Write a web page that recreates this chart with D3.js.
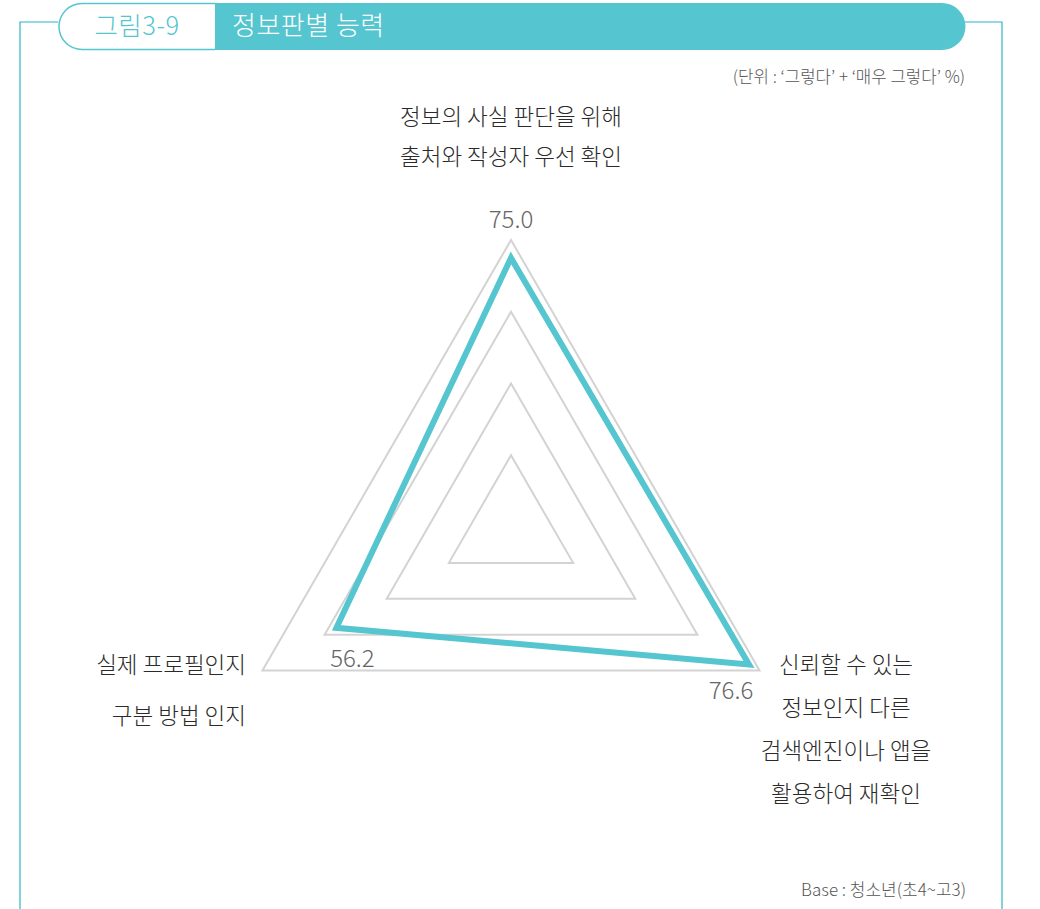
<!DOCTYPE html>
<html>
<head>
<meta charset="utf-8">
<script src="https://cdn.jsdelivr.net/npm/d3@7"></script>
<style>
  body { margin: 0; background: #fff; }
  text { font-family: "Noto Sans CJK KR", "Noto Sans", sans-serif; font-weight: 300; }
</style>
</head>
<body>
<svg id="chart" width="1040" height="909"></svg>
<script>
// data
var axes = ["정보의 사실 판단을 위해|출처와 작성자 우선 확인",
            "신뢰할 수 있는|정보인지 다른|검색엔진이나 앱을|활용하여 재확인",
            "실제 프로필인지|구분 방법 인지"];
var values = [75.0, 76.6, 56.2];
var gridLevels = [20, 40, 60, 80];

var teal = "#55c5cf",
    gridColor = "#d3d3d3";

var svg = d3.select("#chart");

// frame + header
svg.append("path")
    .attr("d", "M20,909 V22 H58")
    .attr("fill", "none").attr("stroke", "#2bb5c9").attr("stroke-width", 1.2);
svg.append("path")
    .attr("d", "M965,22 H1002 V909")
    .attr("fill", "none").attr("stroke", "#2bb5c9").attr("stroke-width", 1.2);

svg.append("path")
    .attr("d", "M215,3 H942 A23.5,23.5 0 0 1 942,50 H215 Z")
    .attr("fill", teal);
svg.append("path")
    .attr("d", "M215,3.5 H82 A23,23 0 0 0 82,49.5 H215")
    .attr("fill", "#fff").attr("stroke", teal).attr("stroke-width", 1.5);

svg.append("text").attr("x", 137).attr("y", 35)
    .attr("text-anchor", "middle").attr("fill", teal)
    .style("font-size", "25.5px").style("letter-spacing", "0.5px").text("그림3-9");
svg.append("text").attr("x", 232).attr("y", 35)
    .attr("fill", "#fff").style("font-size", "26px").style("letter-spacing", "0.5px")
    .text("정보판별 능력");

svg.append("text").attr("x", 965).attr("y", 83)
    .attr("text-anchor", "end").attr("fill", "#555")
    .style("font-size", "16.8px").text("(단위 : ‘그렇다’ + ‘매우 그렇다’ %)");
svg.append("text").attr("x", 966).attr("y", 896)
    .attr("text-anchor", "end").attr("fill", "#555")
    .style("font-size", "17px").text("Base : 청소년(초4~고3)");

// radar
var cx = 511, cy = 527, R = 287;
var r = d3.scaleLinear().domain([0, 80]).range([0, R]);
var angle = function(i) { return i * 2 * Math.PI / axes.length; };

var line = d3.lineRadial()
    .angle(function(d, i) { return angle(i); })
    .radius(function(d) { return r(d); })
    .curve(d3.curveLinearClosed);

var g = svg.append("g").attr("transform", "translate(" + cx + "," + cy + ")");

g.selectAll(".grid")
    .data(gridLevels)
  .enter().append("path")
    .attr("class", "grid")
    .attr("d", function(l) { return line(axes.map(function() { return l; })); })
    .attr("fill", "none")
    .attr("stroke", gridColor)
    .attr("stroke-width", 2);

g.append("path")
    .datum(values)
    .attr("d", line)
    .attr("fill", "none")
    .attr("stroke", teal)
    .attr("stroke-width", 6)
    .attr("stroke-linejoin", "miter");

function pt(i, v) {
  var a = angle(i);
  return [r(v) * Math.sin(a), -r(v) * Math.cos(a)];
}

// value labels
var valPos = [
  {dx: 0, dy: -30, anchor: "middle"},
  {dx: -18, dy: 35, anchor: "middle"},
  {dx: 16, dy: 39, anchor: "middle"}
];
g.selectAll(".val")
    .data(values)
  .enter().append("text")
    .attr("class", "val")
    .attr("x", function(d, i) { return pt(i, d)[0] + valPos[i].dx; })
    .attr("y", function(d, i) { return pt(i, d)[1] + valPos[i].dy; })
    .attr("text-anchor", function(d, i) { return valPos[i].anchor; })
    .attr("fill", "#666")
    .style("font-size", "24px")
    .text(function(d) { return d.toFixed(1); });

// axis labels
var labelPos = [
  {x: 0, y: -402, anchor: "middle", lh: 40},
  {x: 335, y: 146, anchor: "middle", lh: 43},
  {x: -265, y: 146, anchor: "end", lh: 51}
];
axes.forEach(function(a, i) {
  var t = g.append("text")
      .attr("text-anchor", labelPos[i].anchor)
      .attr("fill", "#2a2a2a")
      .style("font-size", "22.5px");
  a.split("|").forEach(function(s, j) {
    t.append("tspan")
        .attr("x", labelPos[i].x)
        .attr("y", labelPos[i].y + j * labelPos[i].lh)
        .text(s);
  });
});
</script>
</body>
</html>
